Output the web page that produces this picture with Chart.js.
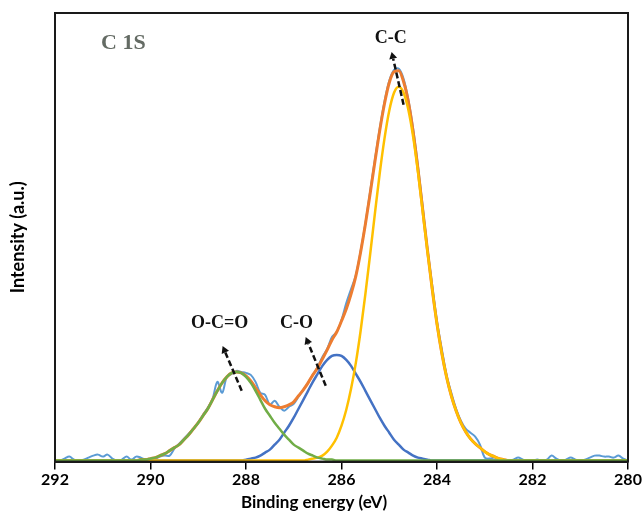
<!DOCTYPE html>
<html>
<head>
<meta charset="utf-8">
<script src="https://cdn.jsdelivr.net/npm/chart.js@4.4.1/dist/chart.umd.min.js"></script>
<style>
  html, body { margin: 0; padding: 0; background: #fff; }
</style>
</head>
<body>
<canvas id="xpsChart" width="644" height="519"></canvas>
<script>
// C 1s XPS spectrum, binding energy grid (eV)
const energy = [
  292.0,291.9,291.8,291.7,291.6,291.5,291.4,291.3,291.2,291.1,
  291.0,290.9,290.8,290.7,290.6,290.5,290.4,290.3,290.2,290.1,
  290.0,289.9,289.8,289.7,289.6,289.5,289.4,289.3,289.2,289.1,
  289.0,288.9,288.8,288.7,288.6,288.5,288.4,288.3,288.2,288.1,
  288.0,287.9,287.8,287.7,287.6,287.5,287.4,287.3,287.2,287.1,
  287.0,286.9,286.8,286.7,286.6,286.5,286.4,286.3,286.2,286.1,
  286.0,285.9,285.8,285.7,285.6,285.5,285.4,285.3,285.2,285.1,
  285.0,284.9,284.8,284.7,284.6,284.5,284.4,284.3,284.2,284.1,
  284.0,283.9,283.8,283.7,283.6,283.5,283.4,283.3,283.2,283.1,
  283.0,282.9,282.8,282.7,282.6,282.5,282.4,282.3,282.2,282.1,
  282.0,281.9,281.8,281.7,281.6,281.5,281.4,281.3,281.2,281.1,
  281.0,280.9,280.8,280.7,280.6,280.5,280.4,280.3,280.2,280.1,
  280.0
];

// measured signal (a.u.)
const rawData = [
  1,0,2,4,1,0,1,3,5,6,
  4,6,2,0,1,4,1,4,3,1,
  2,2,4,5,5,12,17,22,27,32,
  38,46,53,62,79,68,84,87,90,89,
  88,86,79,68,66,56,60,54,50,54,
  57,64,71,78,86,94,104,112,124,129,
  141,158,172,186,210,238,270,302,333,360,
  381,392,393,383,362,333,296,255,213,176,
  140,112,86,68,52,40,32,28,24,16,
  3,2,3,2,1,0,1,3,1,0,
  0,1,0,1,5,2,0,1,3,1,
  0,1,3,5,5,4,4,3,5,2,
  0
];

// envelope (sum of components)
const fitData = [
  0,0,0,0,0,0,0,0,0,0,
  0,0,0,0,0,0,0,0,1,1,
  2,3,5,7,10,13,16,21,26,32,
  38,45,52,61,70,78,84,88,89,88,
  85,80,73,66,60,56,54,53,54,56,
  59,65,71,78,86,93,102,111,121,129,
  140,152,167,185,209,237,268,300,331,358,
  379,390,391,380,360,330,293,252,211,172,
  137,108,84,65,50,38,29,22,17,13,
  9,6,4,2,1,0,0,0,0,0,
  0,0,0,0,0,0,0,0,0,0,
  0,0,0,0,0,0,0,0,0,0,
  0
];

// O-C=O component
const ocoData = [
  0,0,0,0,0,0,0,0,0,0,
  0,0,0,0,0,0,0,0,1,1,
  2,3,5,7,10,13,16,21,26,32,
  38,45,52,61,70,78,84,88,89,88,
  84,78,70,61,52,45,38,32,26,21,
  16,13,10,7,5,3,2,1,1,0,
  0,0,0,0,0,0,0,0,0,0,
  0,0,0,0,0,0,0,0,0,0,
  0,0,0,0,0,0,0,0,0,0,
  0,0,0,0,0,0,0,0,0,0,
  0,0,0,0,0,0,0,0,0,0,
  0,0,0,0,0,0,0,0,0,0,
  0
];

// C-O component
const coData = [
  0,0,0,0,0,0,0,0,0,0,
  0,0,0,0,0,0,0,0,0,0,
  0,0,0,0,0,0,0,0,0,0,
  0,0,0,0,0,0,0,0,0,0,
  1,2,3,5,8,11,16,21,28,35,
  43,52,61,70,79,87,95,101,105,106,
  105,101,95,87,79,70,61,52,43,35,
  28,21,16,11,8,5,3,2,1,0,
  0,0,0,0,0,0,0,0,0,0,
  0,0,0,0,0,0,0,0,0,0,
  0,0,0,0,0,0,0,0,0,0,
  0,0,0,0,0,0,0,0,0,0,
  0
];

// C-C component
const ccData = [
  0,0,0,0,0,0,0,0,0,0,
  0,0,0,0,0,0,0,0,0,0,
  0,0,0,0,0,0,0,0,0,0,
  0,0,0,0,0,0,0,0,0,0,
  0,0,0,0,0,0,0,0,0,0,
  0,0,0,1,2,3,5,9,15,23,
  35,51,72,98,130,167,207,248,288,323,
  351,369,375,369,352,325,290,250,210,172,
  137,108,84,65,50,38,29,22,17,13,
  9,6,4,2,1,0,0,0,0,0,
  0,0,0,0,0,0,0,0,0,0,
  0,0,0,0,0,0,0,0,0,0,
  0
];

const xTicks = [292, 290, 288, 286, 284, 282, 280];
const peakNames = ['C-C', 'C-O', 'O-C=O'];

const toPoints = arr => arr.map((v, i) => ({ x: energy[i], y: v }));

function line(data, color, width, smooth) {
  return {
    data: toPoints(data),
    borderColor: color,
    borderWidth: width,
    pointRadius: 0,
    fill: false,
    tension: smooth ? 0 : 0.35,
    cubicInterpolationMode: smooth ? 'monotone' : 'default'
  };
}

function arrow(ctx, x1, y1, x2, y2) {
  const ang = Math.atan2(y2 - y1, x2 - x1);
  const hx = x2 - 7 * Math.cos(ang), hy = y2 - 7 * Math.sin(ang);
  ctx.setLineDash([6, 3]);
  ctx.lineWidth = 2.5;
  ctx.beginPath();
  ctx.moveTo(x1, y1);
  ctx.lineTo(hx, hy);
  ctx.stroke();
  ctx.setLineDash([]);
  ctx.beginPath();
  ctx.moveTo(x2, y2);
  ctx.lineTo(hx + 4 * Math.sin(ang), hy - 4 * Math.cos(ang));
  ctx.lineTo(hx - 4 * Math.sin(ang), hy + 4 * Math.cos(ang));
  ctx.closePath();
  ctx.fill();
}

// frame, peak labels and arrows
const annotations = {
  id: 'annotations',
  afterDatasetsDraw(chart) {
    const { ctx, chartArea: a, scales: { x, y } } = chart;
    ctx.save();
    ctx.strokeStyle = '#1a1a1a';
    ctx.lineWidth = 2;
    ctx.strokeRect(a.left, a.top, a.right - a.left, a.bottom - a.top);

    ctx.fillStyle = '#646b64';
    ctx.font = 'bold 22px "Liberation Serif"';
    ctx.textAlign = 'left';
    ctx.textBaseline = 'middle';
    ctx.fillText('C 1S', a.left + 46, a.top + 30);

    ctx.fillStyle = '#111';
    ctx.strokeStyle = '#111';
    ctx.font = 'bold 18px "Liberation Serif"';
    ctx.textAlign = 'center';
    ctx.fillText(peakNames[0], x.getPixelForValue(284.97), y.getPixelForValue(424));
    ctx.fillText(peakNames[1], x.getPixelForValue(286.94), y.getPixelForValue(138));
    ctx.fillText(peakNames[2], x.getPixelForValue(288.55), y.getPixelForValue(138));

    arrow(ctx, x.getPixelForValue(284.70), y.getPixelForValue(357), x.getPixelForValue(284.95), y.getPixelForValue(410));
    arrow(ctx, x.getPixelForValue(286.33), y.getPixelForValue(75), x.getPixelForValue(286.75), y.getPixelForValue(124));
    arrow(ctx, x.getPixelForValue(288.09), y.getPixelForValue(70), x.getPixelForValue(288.49), y.getPixelForValue(115));
    ctx.restore();
  }
};

const axisFont = { family: 'Lato', size: 16, weight: 'bold' };

new Chart(document.getElementById('xpsChart').getContext('2d'), {
  type: 'line',
  data: {
    datasets: [
      line(ocoData, '#70ad47', 2.5, true),
      line(ccData, '#ffc000', 2.5, true),
      line(coData, '#4472c4', 2.5, true),
      line(fitData, '#ed7d31', 3, true),
      line(rawData, '#5b9bd5', 2, false)
    ]
  },
  options: {
    responsive: false,
    animation: false,
    layout: { padding: { top: 13, right: 16, left: 0, bottom: 0 } },
    plugins: {
      legend: { display: false },
      tooltip: { enabled: false },
      title: {
        display: true,
        position: 'bottom',
        text: 'Binding energy (eV)',
        color: '#000',
        font: { family: 'Lato', size: 17, weight: 'bold' },
        padding: { top: 2, bottom: 6 }
      }
    },
    scales: {
      x: {
        type: 'linear',
        reverse: true,
        min: 280,
        max: 292,
        afterBuildTicks: s => { s.ticks = xTicks.map(v => ({ value: v })); },
        ticks: { color: '#000', font: axisFont, padding: 1, maxRotation: 0 },
        grid: { drawOnChartArea: false, tickLength: 8, color: '#000', lineWidth: 1.5 },
        border: { display: true, color: '#1a1a1a', width: 2 },
        afterFit: s => { s.height = 29; }
      },
      y: {
        min: -1,
        max: 449,
        ticks: { display: false },
        grid: { display: false },
        border: { display: true, color: '#1a1a1a', width: 2 },
        title: {
          display: true,
          text: 'Intensity (a.u.)',
          color: '#000',
          font: { family: 'Lato', size: 18, weight: 'bold' },
          padding: { top: 7, bottom: 0 }
        },
        afterFit: s => { s.width = 55; }
      }
    }
  },
  plugins: [annotations]
});
</script>
</body>
</html>
